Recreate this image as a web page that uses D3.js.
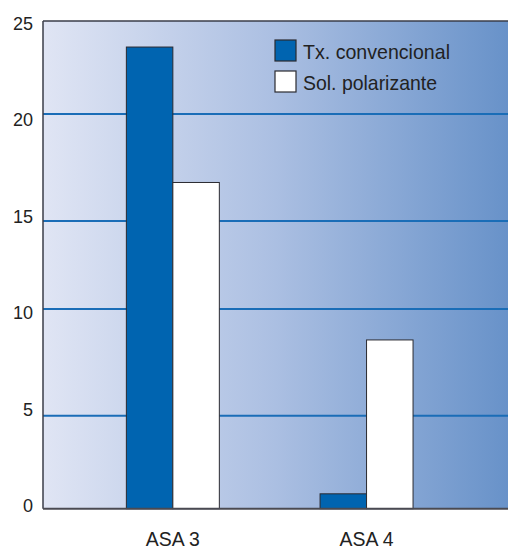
<!DOCTYPE html>
<html><head><meta charset="utf-8">
<script src="https://cdn.jsdelivr.net/npm/d3@7"></script>
<style>body{margin:0;background:#fff}svg{display:block}text{font-family:"Liberation Sans",Arial,sans-serif;fill:#222}</style>
</head><body><svg id="c" width="508" height="550"></svg>
<script>
const categories = ["ASA 3", "ASA 4"];
const seriesNames = ["Tx. convencional", "Sol. polarizante"];
const txConvencional = [23.6, 0.8];
const solPolarizante = [16.8, 8.55];
const yTicks = [0, 5, 10, 15, 20, 25];
// gridline positions in the original are slightly irregular
const gridRange = [508.7, 415.7, 309, 221, 114, 21];

const svg = d3.select("#c");
const pL = 43, pR = 508, pT = 21, pB = 508.7;

const y = d3.scaleLinear().domain(yTicks).range(gridRange);
const yLab = d3.scaleLinear().domain([0, 25]).range([506, 23.5]);
const x0 = d3.scaleBand().domain(categories).range([76, 463.4]).paddingInner(0.52).paddingOuter(0.26);
const x1 = d3.scaleBand().domain(seriesNames).range([0, x0.bandwidth()]);
const color = d3.scaleOrdinal().domain(seriesNames).range(["#0064b0", "#ffffff"]);

const defs = svg.append("defs");
const g = defs.append("linearGradient").attr("id", "bg").attr("x1", "0").attr("x2", "1").attr("y1", "0").attr("y2", "0");
g.append("stop").attr("offset", "0%").attr("stop-color", "#e0e5f4");
g.append("stop").attr("offset", "50%").attr("stop-color", "#abbfe2");
g.append("stop").attr("offset", "100%").attr("stop-color", "#6892c9");

svg.append("rect").attr("x", pL).attr("y", pT).attr("width", pR - pL).attr("height", pB - pT).attr("fill", "url(#bg)");

// gridlines
svg.append("g").selectAll("line").data(yTicks.filter(d => d > 0 && d < 25)).join("line")
  .attr("x1", pL).attr("x2", pR).attr("y1", d => y(d)).attr("y2", d => y(d))
  .attr("stroke", "#1a6db7").attr("stroke-width", 2);

svg.append("line").attr("x1", pL).attr("x2", pR).attr("y1", pT).attr("y2", pT).attr("stroke", "#3a3d48").attr("stroke-width", 1.5);

// bars
const data = categories.map((c, i) => ({c, vals: [{k: seriesNames[0], v: txConvencional[i]}, {k: seriesNames[1], v: solPolarizante[i]}]}));
svg.append("g").selectAll("g").data(data).join("g")
  .attr("transform", d => `translate(${x0(d.c)},0)`)
  .selectAll("rect").data(d => d.vals).join("rect")
  .attr("x", d => x1(d.k)).attr("width", x1.bandwidth())
  .attr("y", d => y(d.v)).attr("height", d => y(0) - y(d.v))
  .attr("fill", d => color(d.k)).attr("stroke", "#2a2a30").attr("stroke-width", 1);

svg.append("line").attr("x1", pL).attr("x2", pL).attr("y1", pT).attr("y2", pB).attr("stroke", "#3a3d48").attr("stroke-width", 1.5);
svg.append("line").attr("x1", pL).attr("x2", pR).attr("y1", pB).attr("y2", pB).attr("stroke", "#4a4a52").attr("stroke-width", 2);

// y labels
const yAxis = svg.append("g").attr("transform", "translate(33,0)")
  .call(d3.axisLeft(yLab).tickValues(yTicks).tickSize(0).tickPadding(0));
yAxis.select(".domain").remove();
yAxis.selectAll("text").attr("font-size", 18).attr("fill", "#222").attr("font-family", "Liberation Sans, Arial, sans-serif");

// x labels
const xAxis = svg.append("g").attr("transform", `translate(0,${pB})`)
  .call(d3.axisBottom(x0).tickSize(0).tickPadding(0));
xAxis.select(".domain").remove();
xAxis.selectAll("text").attr("dy", null).attr("y", 37).attr("font-size", 21).attr("fill", "#222")
  .attr("font-family", "Liberation Sans, Arial, sans-serif")
  .attr("textLength", 54).attr("lengthAdjust", "spacingAndGlyphs");

// legend
const leg = svg.append("g").selectAll("g").data(seriesNames).join("g")
  .attr("transform", (d, i) => `translate(275,${40 + i * 31})`);
leg.append("rect").attr("width", 21).attr("height", 21).attr("fill", d => color(d)).attr("stroke", "#2a2a30").attr("stroke-width", 1.2);
leg.append("text").attr("x", 28).attr("y", 18.5).attr("font-size", 21).text(d => d)
  .attr("textLength", (d, i) => i === 0 ? 147 : 134).attr("lengthAdjust", "spacingAndGlyphs");
</script></body></html>
